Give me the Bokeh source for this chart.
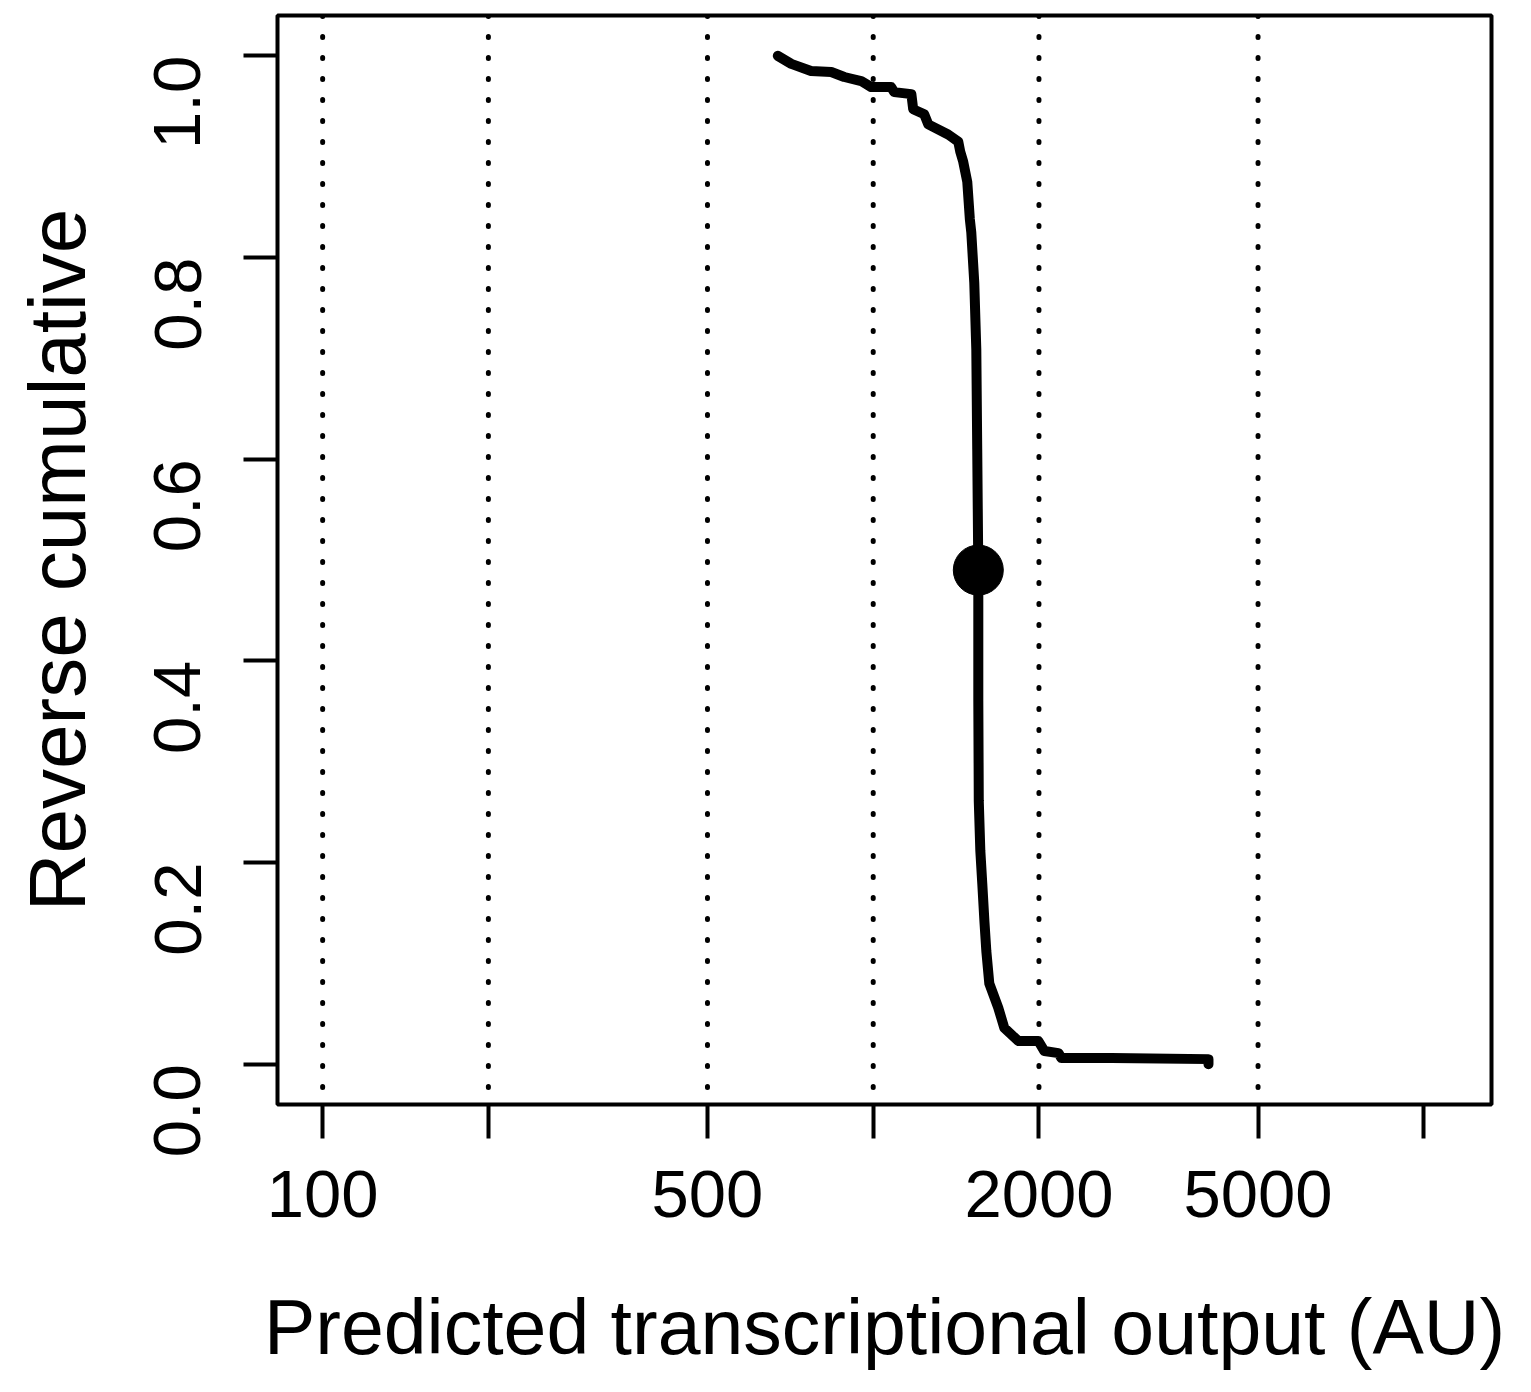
import math
from bokeh.plotting import figure
from bokeh.models import Range1d, FixedTicker, PrintfTickFormatter, Span
from bokeh.embed import file_html
from bokeh.resources import INLINE

# Curve values (predicted output AU, reverse cumulative)
output_au = [671, 710, 771, 839, 886, 951, 992, 1078, 1092, 1173, 1182, 1238, 1259,
             1368, 1427, 1439, 1457, 1482, 1498, 1507, 1526, 1539, 1545, 1552, 1552,
             1555, 1565, 1578, 1592, 1605, 1625, 1687, 1730, 1834, 1995, 2046, 2170,
             2197, 2709, 4064, 4064]
rev_cum = [1.0, 0.992, 0.985, 0.984, 0.979, 0.975, 0.969, 0.969, 0.964, 0.962, 0.947,
           0.942, 0.932, 0.922, 0.915, 0.905, 0.895, 0.875, 0.838, 0.825, 0.775, 0.709,
           0.61, 0.49, 0.361, 0.261, 0.212, 0.179, 0.142, 0.112, 0.080, 0.056, 0.036,
           0.023, 0.023, 0.013, 0.011, 0.006, 0.006, 0.005, 0.0]

median_x = [1552]
median_y = [0.49]

x_ticks = [100, 200, 500, 1000, 2000, 5000, 10000]
x_tick_labels = {100: "100", 200: "", 500: "500", 1000: "", 2000: "2000", 5000: "5000", 10000: ""}
grid_x = [100, 200, 500, 1000, 2000, 5000]
y_ticks = [0.0, 0.2, 0.4, 0.6, 0.8, 1.0]

x_title = "Predicted transcriptional output (AU)"
y_title = "Reverse cumulative"

FONT = "Liberation Sans"

p = figure(width=1515, height=1376, output_backend="svg", toolbar_location=None,
           x_axis_type="log",
           x_range=Range1d(10 ** 1.918, 10 ** 4.123),
           y_range=Range1d(-0.04, 1.04),
           min_border_left=277, min_border_right=24,
           min_border_top=15, min_border_bottom=272)

p.xgrid.visible = False
p.ygrid.visible = False
p.outline_line_color = "black"
p.outline_line_width = 4
p.background_fill_color = "white"
p.border_fill_color = "white"

for gx in grid_x:
    p.add_layout(Span(location=gx, dimension="height", line_color="black",
                      line_width=5, line_dash="1 20", line_cap="round"))

p.line(output_au, rev_cum, line_color="black", line_width=10,
       line_join="round", line_cap="round")
p.scatter(median_x, median_y, size=50, fill_color="black", line_color="black")

xa = p.xaxis[0]
xa.ticker = FixedTicker(ticks=x_ticks)
xa.major_label_overrides = x_tick_labels
xa.minor_tick_line_color = None
xa.axis_line_color = None
xa.major_tick_line_color = "black"
xa.major_tick_line_width = 4
xa.major_tick_out = 34
xa.major_tick_in = 0
xa.major_label_text_font = FONT
xa.major_label_text_font_size = "67px"
xa.major_label_text_color = "black"
xa.major_label_standoff = 32
xa.axis_label = x_title
xa.axis_label_text_font = FONT
xa.axis_label_text_font_size = "77px"
xa.axis_label_text_font_style = "normal"
xa.axis_label_text_color = "black"
xa.axis_label_standoff = 64

ya = p.yaxis[0]
ya.ticker = FixedTicker(ticks=y_ticks)
ya.formatter = PrintfTickFormatter(format="%.1f")
ya.minor_tick_line_color = None
ya.axis_line_color = None
ya.major_tick_line_color = "black"
ya.major_tick_line_width = 4
ya.major_tick_out = 34
ya.major_tick_in = 0
ya.major_label_orientation = math.pi / 2
ya.major_label_text_font = FONT
ya.major_label_text_font_size = "67px"
ya.major_label_text_color = "black"
ya.major_label_standoff = 66
ya.axis_label = y_title
ya.axis_label_text_font = FONT
ya.axis_label_text_font_size = "80px"
ya.axis_label_text_font_style = "normal"
ya.axis_label_text_color = "black"
ya.axis_label_standoff = 27

open("out.html", "w").write(file_html(p, INLINE))
